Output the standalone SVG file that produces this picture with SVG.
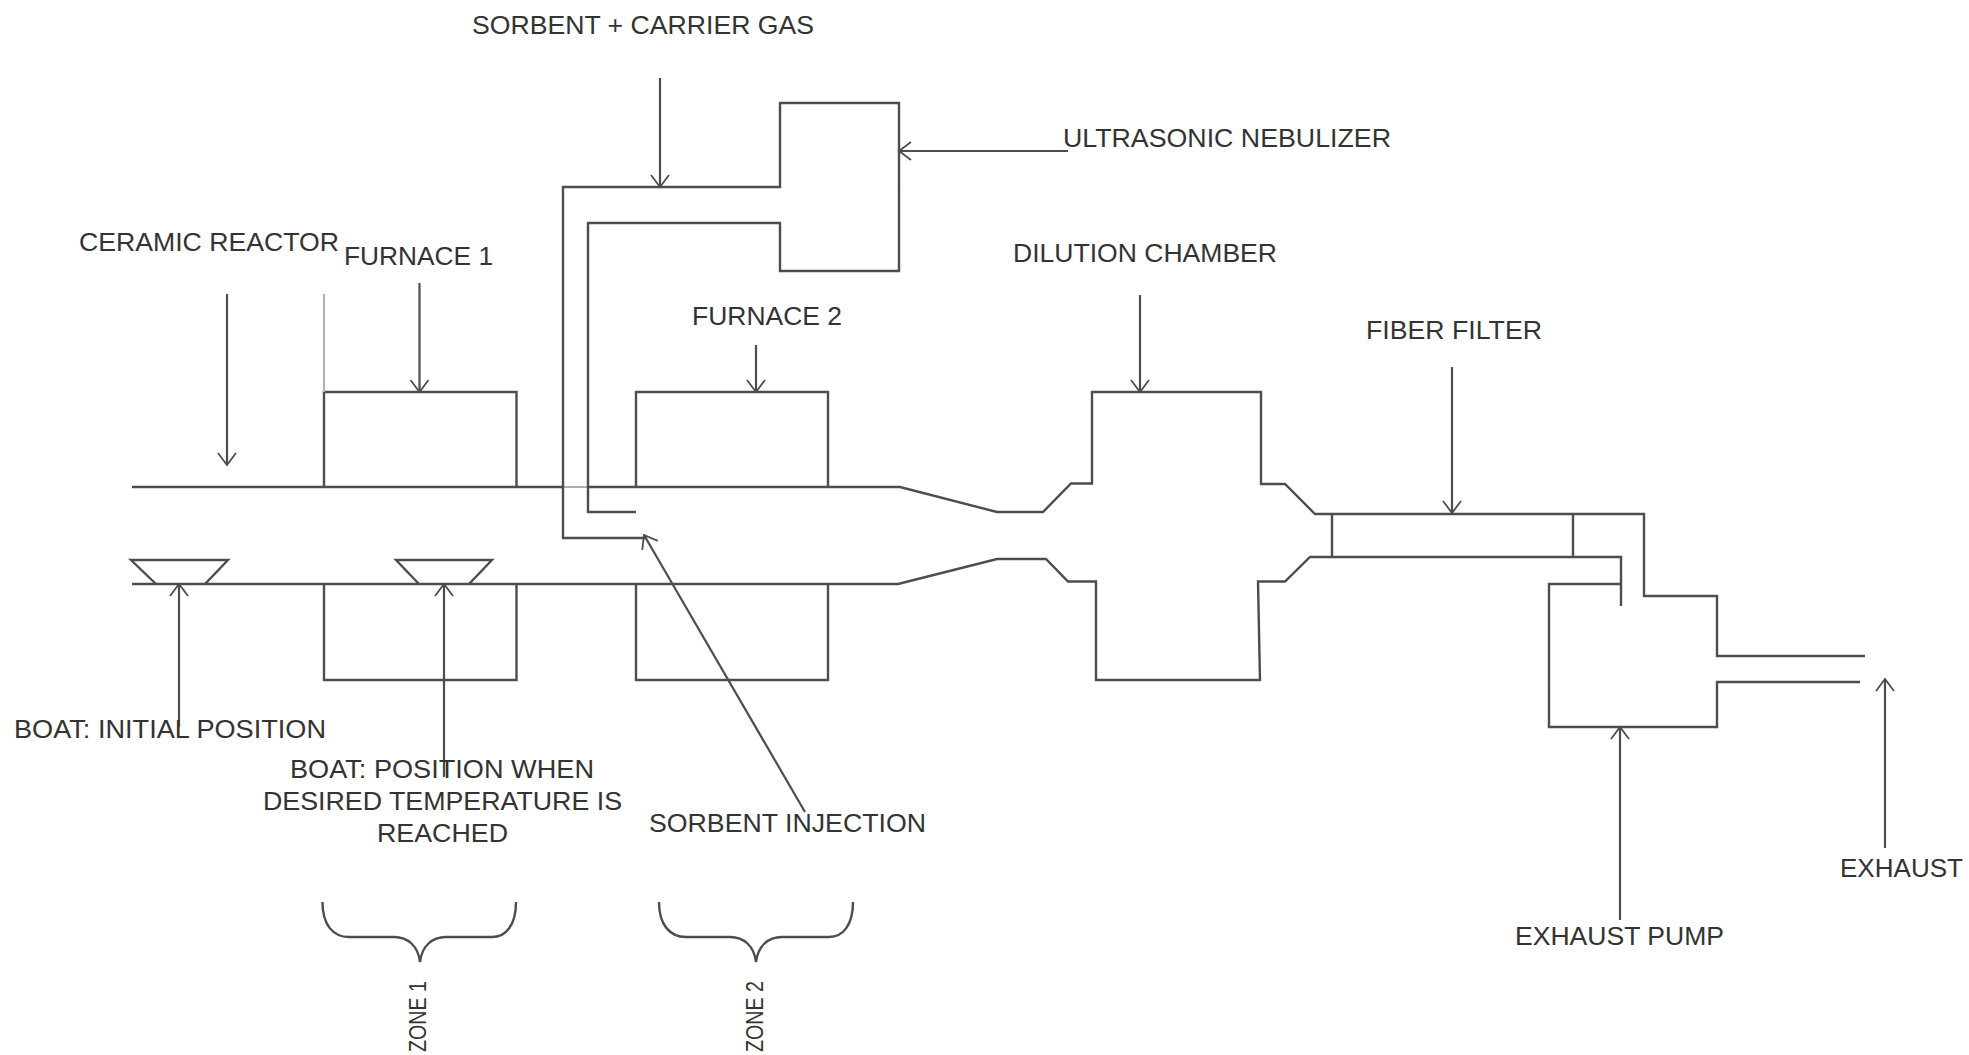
<svg xmlns="http://www.w3.org/2000/svg" width="1969" height="1055" viewBox="0 0 1969 1055">
<style>
.s{fill:none;stroke:#4d4d4d;stroke-width:2.4;stroke-linejoin:miter}
.g{fill:none;stroke:#b0b0b0;stroke-width:2}
.a{fill:none;stroke:#4d4d4d;stroke-width:2.2;marker-end:url(#h)}
.t{font-family:"Liberation Sans",Arial,sans-serif;font-size:25px;fill:#333}
</style>
<defs>
<marker id="h" markerUnits="userSpaceOnUse" markerWidth="28" markerHeight="28" viewBox="-14 -14 28 28" refX="0" refY="0" orient="auto">
<path d="M-12,-9 L0,0 L-12,9" fill="none" stroke="#4d4d4d" stroke-width="1.8"/>
</marker>
</defs>
<rect width="1969" height="1055" fill="#fff"/>
<g id="reactor-tube">
<path class="s" d="M132 487H563M588 487H900L997 512H1043L1071 483.500H1092V392H1261V484H1285L1315 514H1644V596H1717V656H1865"/>
<path class="g" d="M563 487H588"/>
<path class="s" d="M132 584H898L997 559H1046L1068 581.500H1096V680H1260L1258 581.500H1285L1310 557H1621V606"/>
</g>
<g id="furnace-1">
<path class="s" d="M324 487V392H516.500V487M324 584V680H516.500V584"/>
<path class="g" d="M324 294V392"/>
</g>
<g id="furnace-2">
<path class="s" d="M636 487V392H828V487M636 584V680H828V584"/>
</g>
<g id="nebulizer">
<path class="s" d="M647 538H563V187H780V103H899V271H780V223H588V512H636"/>
</g>
<g id="fiber-filter">
<path class="s" d="M1332 514V557M1573 514V557"/>
</g>
<g id="exhaust-pump">
<path class="s" d="M1621 584H1549V727H1717V682H1860"/>
</g>
<g id="boat-initial">
<path class="s" d="M156 584L131 560H228L205 584"/>
</g>
<g id="boat-final">
<path class="s" d="M419 584L396 560H492L469 584"/>
</g>
<g id="zone-1-brace">
<path class="s" d="M322.500 902C322.500 925 333 937 349 937H394C408 937 418 946 420 962C422 946 432 937 446 937H492C506 937 516 925 516 902"/>
</g>
<g id="zone-2-brace">
<path class="s" d="M659 902C659 925 670 937 686 937H730C744 937 754 946 756 962C758 946 768 937 782 937H829C843 937 853 925 853 902"/>
</g>
<g id="connectors">
<path class="a" d="M227 294V465"/>
<path class="a" d="M419.500 283V392"/>
<path class="a" d="M756 345V392"/>
<path class="a" d="M660 78V187"/>
<path class="a" d="M1068 151H899"/>
<path class="a" d="M1140 295V392"/>
<path class="a" d="M1452 367V513"/>
<path class="a" d="M1620 920V727"/>
<path class="a" d="M1885 848V679"/>
<path class="a" d="M179 727V584"/>
<path class="a" d="M444 777V584"/>
<path class="a" d="M805 812L644 535"/>
</g>
<g id="label-sorbent-carrier"><text class="t" x="472" y="34" textLength="342" lengthAdjust="spacingAndGlyphs">SORBENT + CARRIER GAS</text></g>
<g id="label-nebulizer"><text class="t" x="1063" y="147" textLength="328" lengthAdjust="spacingAndGlyphs">ULTRASONIC NEBULIZER</text></g>
<g id="label-ceramic"><text class="t" x="79" y="251" textLength="260" lengthAdjust="spacingAndGlyphs">CERAMIC REACTOR</text></g>
<g id="label-furnace-1"><text class="t" x="344" y="265" textLength="149" lengthAdjust="spacingAndGlyphs">FURNACE 1</text></g>
<g id="label-furnace-2"><text class="t" x="692" y="325" textLength="150" lengthAdjust="spacingAndGlyphs">FURNACE 2</text></g>
<g id="label-dilution"><text class="t" x="1013" y="262" textLength="264" lengthAdjust="spacingAndGlyphs">DILUTION CHAMBER</text></g>
<g id="label-fiber"><text class="t" x="1366" y="339" textLength="176" lengthAdjust="spacingAndGlyphs">FIBER FILTER</text></g>
<g id="label-boat-initial"><text class="t" x="14" y="738" textLength="312" lengthAdjust="spacingAndGlyphs">BOAT: INITIAL POSITION</text></g>
<g id="label-boat-final">
<text class="t" x="290" y="778" textLength="304" lengthAdjust="spacingAndGlyphs">BOAT: POSITION WHEN</text>
<text class="t" x="263" y="810" textLength="359" lengthAdjust="spacingAndGlyphs">DESIRED TEMPERATURE IS</text>
<text class="t" x="377" y="842" textLength="131" lengthAdjust="spacingAndGlyphs">REACHED</text>
</g>
<g id="label-injection"><text class="t" x="649" y="832" textLength="277" lengthAdjust="spacingAndGlyphs">SORBENT INJECTION</text></g>
<g id="label-exhaust-pump"><text class="t" x="1515" y="945" textLength="209" lengthAdjust="spacingAndGlyphs">EXHAUST PUMP</text></g>
<g id="label-exhaust"><text class="t" x="1840" y="877" textLength="123" lengthAdjust="spacingAndGlyphs">EXHAUST</text></g>
<g id="label-zone-1"><text class="t" transform="translate(426 1052) rotate(-90)" textLength="71" lengthAdjust="spacingAndGlyphs" style="font-size:23px">ZONE 1</text></g>
<g id="label-zone-2"><text class="t" transform="translate(762.500 1052) rotate(-90)" textLength="71" lengthAdjust="spacingAndGlyphs" style="font-size:23px">ZONE 2</text></g>
</svg>
